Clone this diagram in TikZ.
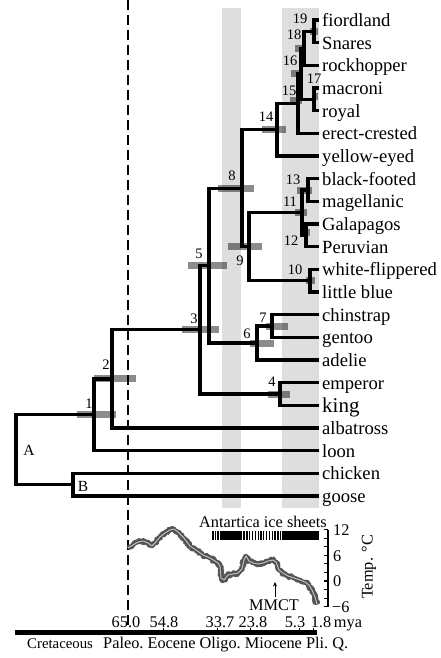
\documentclass[tikz,border=0pt]{standalone}
\usepackage{fontspec}
\setmainfont{Liberation Serif}
\usetikzlibrary{decorations.pathmorphing,arrows.meta}
\newcommand\ebar[3]{\fill[errbar] (#1,#3-3.5) rectangle (#2,#3+3.5);}
\newcommand\tpath{(128,548) -- (133,545) -- (138,542) -- (143,541) -- (148,543) -- (152,546) -- (155,543) -- (160,537) -- (165,533) -- (170,530) -- (174,529) -- (178,532) -- (184,538) -- (190,546) -- (196,550) -- (203,555) -- (210,558) -- (215,561) -- (218,563) -- (220,566) -- (221,578) -- (224,580) -- (228,575) -- (233,574) -- (238,573) -- (242,569) -- (244,560) -- (246,556) -- (249,561) -- (253,563) -- (258,564) -- (263,563) -- (268,561) -- (273,560) -- (276,562) -- (279,570) -- (283,573) -- (288,576) -- (294,578) -- (300,580) -- (305,582) -- (309,585) -- (312,590) -- (315,597) -- (317,604)}
\begin{document}
\begin{tikzpicture}[x=1pt,y=-1pt,
  branch/.style={line width=3.3pt, line join=miter},
  errbar/.style={fill=black, fill opacity=0.45},
  band/.style={fill=black!13},
  taxon/.style={anchor=base west, inner sep=0pt, font=\fontsize{18.6}{20}\selectfont},
  clade/.style={inner sep=0pt, font=\fontsize{14.5}{16}\selectfont},
  small/.style={inner sep=0pt, font=\fontsize{16.3}{18}\selectfont}]
\useasboundingbox (0,0) rectangle (440,658);
\pgfmathsetseed{11}

% time bands
\fill[band] (222,8) rectangle (241,508);
\fill[band] (282,8) rectangle (319,508);

% K-Pg boundary
\draw[line width=2.2pt, dash pattern=on 10pt off 5pt] (128,0) -- (128,630);

% leaf ends
\foreach \i in {1,...,22} \coordinate (L\i) at (319,{20+22.667*(\i-1)});

% internal nodes
\coordinate (n19) at (314,31.33);
\coordinate (n18) at (304,48.33);
\coordinate (n17) at (314,99.33);
\coordinate (n16) at (301,73.83);
\coordinate (n15) at (298,103.58);
\coordinate (n14) at (277,129.8);
\coordinate (n13) at (308,190);
\coordinate (n12) at (306,235.33);
\coordinate (n11) at (302,212.67);
\coordinate (n10) at (310,280.67);
\coordinate (n9) at (249,246.67);
\coordinate (n8) at (242,188.2);
\coordinate (n7) at (272,326);
\coordinate (n6) at (257,343);
\coordinate (n5) at (209,265.6);
\coordinate (n4) at (280,394);
\coordinate (n3) at (200,329.8);
\coordinate (n2) at (112,378.9);
\coordinate (n1) at (94,414.8);
\coordinate (nB) at (73,484.67);
\coordinate (nA) at (16,449.7);

% age uncertainty bars
\ebar{77}{116}{414.8}
\ebar{94}{136}{378.9}
\ebar{182}{219}{329.8}
\ebar{268}{290}{394}
\ebar{188}{227}{265.6}
\ebar{250}{274}{343}
\ebar{266}{288}{326}
\ebar{218}{254}{188.2}
\ebar{228}{262}{246.67}
\ebar{306}{315}{280.67}
\ebar{295}{307}{212.67}
\ebar{303}{310}{232}
\ebar{297}{312}{190}
\ebar{262}{286}{129.8}
\ebar{290}{302}{101}
\ebar{291}{302}{73.83}
\ebar{315}{318}{97}
\ebar{295}{305}{48.33}
\ebar{310}{318}{31.33}

% branches
\draw[branch] (L1) -| (n19) |- (L2);
\draw[branch] (n19) -| (n18) |- (L3);
\draw[branch] (L4) -| (n17) |- (L5);
\draw[branch] (n18) -| (n16) |- (n17);
\draw[branch] (n16) -| (n15) |- (L6);
\draw[branch] (n15) -| (n14) |- (L7);
\draw[branch] (L8) -| (n13) |- (L9);
\draw[branch] (L10) -| (n12) |- (L11);
\draw[branch] (n13) -| (n11) |- (n12);
\draw[branch] (L12) -| (n10) |- (L13);
\draw[branch] (n11) -| (n9) |- (n10);
\draw[branch] (n14) -| (n8) |- (n9);
\draw[branch] (L14) -| (n7) |- (L15);
\draw[branch] (n7) -| (n6) |- (L16);
\draw[branch] (n8) -| (n5) |- (n6);
\draw[branch] (L17) -| (n4) |- (L18);
\draw[branch] (n5) -| (n3) |- (n4);
\draw[branch] (n3) -| (n2) |- (L19);
\draw[branch] (n2) -| (n1) |- (L20);
\draw[branch] (L21) -| (nB) |- (L22);
\draw[branch] (n1) -| (nA) |- (nB);

% taxa
\foreach \i/\t in {1/fiordland,2/Snares,3/rockhopper,4/macroni,5/royal,6/erect-crested,7/yellow-eyed,8/black-footed,9/magellanic,10/Galapagos,11/Peruvian,12/white-flippered,13/little blue,14/chinstrap,15/gentoo,16/adelie,17/emperor,19/albatross,20/loon,21/chicken,22/goose}
  \node[taxon] (t\i) at ([xshift=3pt,yshift=-6.5pt]L\i) {\t};
\node[taxon, font=\fontsize{21}{22}\selectfont] (t18) at ([xshift=3pt,yshift=-7pt]L18) {king};

% clade numbers
\foreach \p/\t in {{(89,404)}/1,{(106,365)}/2,{(194,319)}/3,{(272,382)}/4,{(199,254)}/5,{(247,334)}/6,{(263,318)}/7,{(232,176)}/8,{(240,261)}/9,{(295,270)}/10,{(290,202)}/11,{(291,241)}/12,{(293,180)}/13,{(266,117)}/14,{(289,91)}/15,{(290,61)}/16,{(314,79)}/17,{(294,35)}/18,{(300,19)}/19}
  \node[clade] (c\t) at \p {\t};
\node[clade, font=\fontsize{15.5}{17}\selectfont] (cA) at (29,450) {A};
\node[clade, font=\fontsize{15.5}{17}\selectfont] (cB) at (83,486) {B};

% Antarctic ice sheets
\node[small, anchor=base] (ice) at (263,527) {Antartica ice sheets};
\foreach \s in {212.4,214.8,217.2} \fill (\s,531) rectangle ++(1.3,9);
\fill (220,531) rectangle (242,540);
\foreach \i in {0,...,13} \fill ({243.4+2.82*\i},531) rectangle ++(1.3,9);
\fill (282,531) rectangle (319,540);

% temperature curve
\draw[black!65, line width=4.8pt, line join=round, decorate,
  decoration={random steps, segment length=1pt, amplitude=1.6pt}] \tpath;
\draw[black!72, line width=3pt, line join=round] \tpath;
\draw[black!50, line width=1.5pt, line join=round] \tpath;
\draw[black!15, line width=0.5pt, line join=round] \tpath;

% temperature axis
\draw[line width=2pt] (328,529.6) -- (328,606.7);
\foreach \t in {12,10,...,-6} \draw[line width=1.2pt] (324,{581-4.28*\t}) -- (328,{581-4.28*\t});
\node[small, anchor=west] (y12) at (333,530) {12};
\node[small, anchor=west] (y6) at (333,556) {6};
\node[small, anchor=west] (y0) at (333,581) {0};
\node[small, anchor=west] (ym6) at (332,607) {−6};
\node[small, rotate=90] (ylab) at (369,567) {Temp. °C};

% MMCT
\node[small, anchor=base] (mmct) at (274,610) {MMCT};
\coordinate (mmctTip) at (275,582);
\draw[-{Stealth[length=4.5pt,width=4pt]}, line width=1pt] (mmct.north -| mmctTip) ++(0,-2) -- (mmctTip);

% time axis
\draw[line width=5pt] (15,632.5) -- (317,632.5);
\foreach \x in {163,217,250,299,313} \draw[line width=1pt] (\x,627.5) -- (\x,630);
\foreach \x/\t in {126/65.0,164/54.8,220/33.7,253/23.8,295/5.3,321/1.8,348/mya}
  \node[small, anchor=base] at (\x,627) {\t};
\node[small, anchor=base west, font=\fontsize{14.8}{17}\selectfont] (ageK) at (27,648) {Cretaceous};
\node[small, anchor=base west] (ageT) at (103,648) {Paleo.\ Eocene Oligo.\ Miocene Pli.\ Q.};
\end{tikzpicture}
\end{document}
